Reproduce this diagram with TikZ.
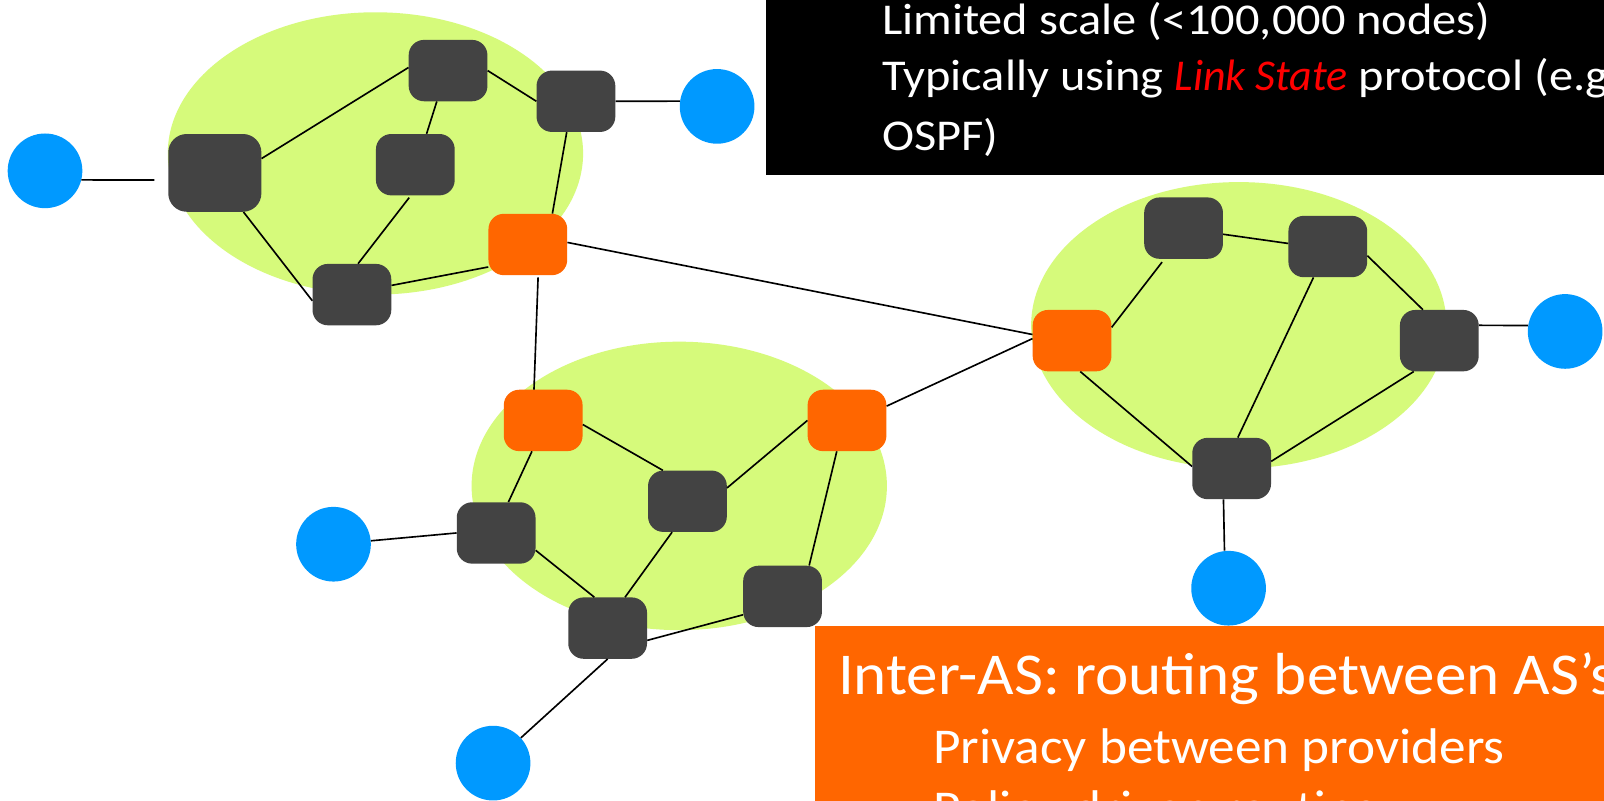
\documentclass[tikz,border=0pt]{standalone}
\usepackage{fontspec}
\setmainfont{Carlito}
\newfontfamily\intrafont[FakeStretch=1.1]{Carlito}
\newfontfamily\linkfont{Carlito}
\newfontfamily\interfont[FakeStretch=1.063]{Carlito}
\usetikzlibrary{shapes.geometric}
\definecolor{asgreen}{HTML}{D6FA7B}
\definecolor{routergray}{HTML}{434343}
\definecolor{hostblue}{HTML}{0099FF}
\definecolor{edgeorange}{HTML}{FF6600}

\begin{document}
\begin{tikzpicture}[x=1pt,y=-1pt,
  asblob/.style={ellipse, fill=asgreen, inner sep=0pt, minimum width=406pt, minimum height=278pt},
  router/.style={rectangle, rounded corners=15pt, fill=routergray, minimum width=77pt, minimum height=60pt, inner sep=0pt},
  gateway/.style={router, fill=edgeorange},
  host/.style={circle, fill=hostblue, minimum size=73pt, inner sep=0pt},
  link/.style={line width=1.6pt, black},
  panelbody/.style={anchor=base west, inner sep=0pt, text=white, font=\intrafont\fontsize{43}{50}\selectfont},
  paneltitle/.style={anchor=base west, inner sep=0pt, text=white, font=\interfont\fontsize{58}{66}\selectfont},
  panelsub/.style={anchor=base west, inner sep=0pt, text=white, font=\interfont\fontsize{49}{56}\selectfont},
]
\useasboundingbox (0,0) rectangle (1568,783);
\clip (0,0) rectangle (1568,783);
\fill[white] (0,0) rectangle (1568,783);

% autonomous systems
\node[asblob, minimum height=276pt] (asA) at (367,150) {};
\node[asblob, minimum height=282pt] (asB) at (664,475) {};
\node[asblob, minimum height=280pt] (asC) at (1211,318) {};

% AS on the upper left
\node[host] (L1) at (44,167) {};
\coordinate (L1tip) at (151,176);
\node[router, minimum width=91pt, minimum height=76pt, rounded corners=18pt] (B1) at (210,169) {};
\node[router] (A2) at (438,69) {};
\node[router] (A3) at (406,161) {};
\node[router] (A4) at (563,99) {};
\node[router] (A5) at (344,288) {};
\node[gateway] (O1) at (516,239) {};
\node[host] (L2) at (701,104) {};

% AS in the middle
\node[gateway] (O2) at (531,411) {};
\node[gateway] (O3) at (828,411) {};
\node[router] (B3) at (672,490) {};
\node[router] (B4) at (485,521) {};
\node[router] (B5) at (594,614) {};
\node[router] (B6) at (765,583) {};
\node[host] (L3) at (326,532) {};
\node[host] (L4) at (482,746) {};

% AS on the right
\node[gateway] (O4) at (1048,333) {};
\node[router] (C1) at (1157,223) {};
\node[router] (C2) at (1298,241) {};
\node[router] (C3) at (1407,333) {};
\node[router] (C4) at (1204,458) {};
\node[host] (L5) at (1530,324) {};
\node[host] (L6) at (1201,575) {};

% links inside the upper-left AS
\draw[link] (L1.-14) -- (L1tip);
\draw[link] ([yshift=14pt]B1.east) -- ([yshift=3pt]A2.west);
\draw[link] (A2.east) -- (A4.west);
\draw[link] ([xshift=-11pt]A2.south) -- ([xshift=11pt]A3.north);
\draw[link] ([xshift=-6pt,yshift=-2pt]A3.south) -- ([xshift=6pt]A5.north);
\draw[link] ([xshift=28pt]B1.south) -- ([yshift=-6pt]A5.west);
\draw[link] ([yshift=9pt]A5.east) -- ([yshift=-22pt]O1.west);
\draw[link] ([xshift=-9pt]A4.south) -- ([xshift=24pt]O1.north);
\draw[link] (A4.east) -- (L2.172);

% links between the systems
\draw[link] ([yshift=2pt]O1.east) -- ([yshift=6pt]O4.west);
\draw[link] ([xshift=10pt,yshift=-2pt]O1.south) -- ([xshift=-9pt]O2.north);
\draw[link] ([yshift=14pt]O3.east) -- ([yshift=2pt]O4.west);

% links inside the middle AS
\draw[link] ([yshift=-4pt]O2.east) -- ([xshift=-24pt]B3.north);
\draw[link] (O3.west) -- ([yshift=13pt]B3.east);
\draw[link] ([xshift=-11pt]O2.south) -- ([xshift=12pt]B4.north);
\draw[link] (B4.west) -- (L3);
\draw[link] ([yshift=-17pt]B4.east) -- ([xshift=-13pt]B5.north);
\draw[link] ([xshift=-15pt]B3.south) -- ([xshift=17pt]B5.north);
\draw[link] ([yshift=-12pt]B5.east) -- ([yshift=-18pt]B6.west);
\draw[link] ([xshift=-10pt]O3.south) -- ([xshift=26pt]B6.north);
\draw[link] (B5.south) -- (L4);

% links inside the right AS
\draw[link] ([yshift=13pt]O4.east) -- ([xshift=-21pt,yshift=-3pt]C1.south);
\draw[link] ([yshift=-6pt]C1.east) -- ([yshift=3pt]C2.west);
\draw[link] ([yshift=-9pt]C2.east) -- ([xshift=-16pt]C3.north);
\draw[link] ([yshift=15pt]C3.east) -- (L5.171);
\draw[link] ([xshift=-14pt]C2.south) -- ([xshift=6pt]C4.north);
\draw[link] ([xshift=8pt]O4.south) -- ([yshift=2pt]C4.west);
\draw[link] ([xshift=-25pt]C3.south) -- ([yshift=7pt]C4.east);
\draw[link] ([xshift=-8pt]C4.south) -- ([xshift=-4pt]L6.north);

% intra-AS panel
\fill[black] (749,-20) rectangle (1600,171);
\node[panelbody] (intra1) at (862,34) {Limited scale (<100,000 nodes)};
\node[panelbody] (intra2) at (862,88) {Typically using {\linkfont\itshape\color{red}Link State} protocol (e.g.};
\node[panelbody] (intra3) at (862,147) {OSPF)};

% inter-AS panel
\fill[edgeorange] (797,612) rectangle (1600,820);
\node[paneltitle] (inter0) at (819,679) {Inter-AS: routing between AS’s};
\node[panelsub] (inter1) at (912,746) {Privacy between providers};
\node[panelsub] (inter2) at (912,807) {Policy-driven routing};
\end{tikzpicture}
\end{document}
